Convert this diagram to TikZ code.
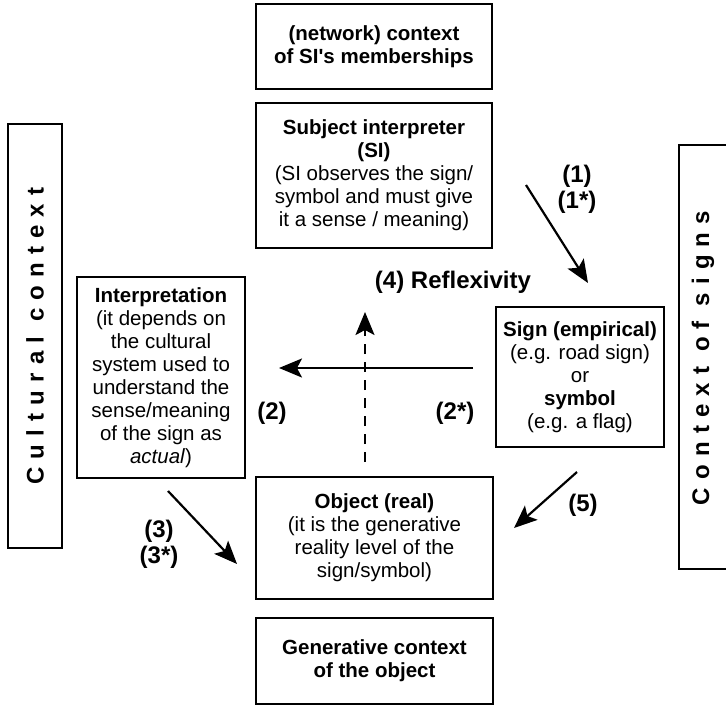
\documentclass[tikz,border=0pt]{standalone}
\usepackage{fontspec}
\setmainfont{Liberation Sans}
\newfontfamily\spaced[LetterSpace=34]{Liberation Sans}
\usetikzlibrary{arrows.meta}
\begin{document}
\begin{tikzpicture}[x=1pt,y=-1pt,
 box/.style={draw, line width=2.4pt, align=center, inner sep=0pt, font=\fontsize{20.5}{23}\selectfont},
 lbl/.style={font=\fontsize{24}{26}\selectfont\bfseries, align=center, inner sep=0pt},
 vtext/.style={rotate=90, inner sep=0pt, font=\fontsize{24}{26}\selectfont\spaced\bfseries},
 arr/.style={line width=2.2pt, -{Stealth[length=23pt,width=19pt,inset=5pt]}},
]
\useasboundingbox (0,0) rectangle (726,705);
\node[box, minimum width=236pt, minimum height=85pt] (net) at (374,46.5) {\textbf{(network) context}\\\textbf{of SI\textquotesingle s memberships}};
\node[box, minimum width=236pt, minimum height=145pt] (si) at (374,175.5) {\textbf{Subject interpreter}\\\textbf{(SI)}\\(SI observes the sign/\\symbol and must give\\it a sense / meaning)};
\node[box, minimum width=54pt, minimum height=424pt] (cult) at (35,336) {};
\node[vtext] (culttext) at (cult.center) {Cultural context};
\node[box, minimum width=168pt, minimum height=201pt] (interp) at (161,377.5) {\textbf{Interpretation}\\(it depends on\\the cultural\\system used to\\understand the\\sense/meaning\\of the sign as\\\textit{actual})};
\node[box, minimum width=168pt, minimum height=140pt] (sign) at (580,377) {\textbf{Sign (empirical)}\\(e.g. road sign)\\or\\\textbf{symbol}\\(e.g. a flag)};
\node[box, minimum width=50pt, minimum height=424pt] (ctx) at (704,357) {};
\node[vtext] (ctxtext) at (703,358) {Context of signs};
\node[box, minimum width=237pt, minimum height=122pt] (obj) at (374.5,538) {\textbf{Object (real)}\\(it is the generative\\reality level of the\\sign/symbol)};
\node[box, minimum width=237pt, minimum height=86pt] (gen) at (374.5,661) {\textbf{Generative context}\\\textbf{of the object}};

\node[lbl] (l1) at (577,189.5) {(1)\\(1*)};
\node[lbl] (l4) at (453,282) {(4) Reflexivity};
\node[lbl] (l2) at (272,413) {(2)};
\node[lbl] (l2s) at (455,413) {(2*)};
\node[lbl] (l5) at (583,505) {(5)};
\node[lbl] (l3) at (159,544) {(3)\\(3*)};

\coordinate (a1s) at (526,185); \coordinate (a1e) at (588,283);
\coordinate (a2s) at (473,368); \coordinate (a2e) at (279,368);
\coordinate (a3s) at (168,491); \coordinate (a3e) at (237,564);
\coordinate (a4s) at (365,462); \coordinate (a4e) at (365,312);
\coordinate (a5s) at (577,472); \coordinate (a5e) at (514,528);

\draw[arr] (a1s) -- (a1e);
\draw[arr] (a2s) -- (a2e);
\draw[arr] (a3s) -- (a3e);
\draw[arr, dash pattern=on 10pt off 8pt] (a4s) -- (a4e);
\draw[arr] (a5s) -- (a5e);
\end{tikzpicture}
\end{document}
